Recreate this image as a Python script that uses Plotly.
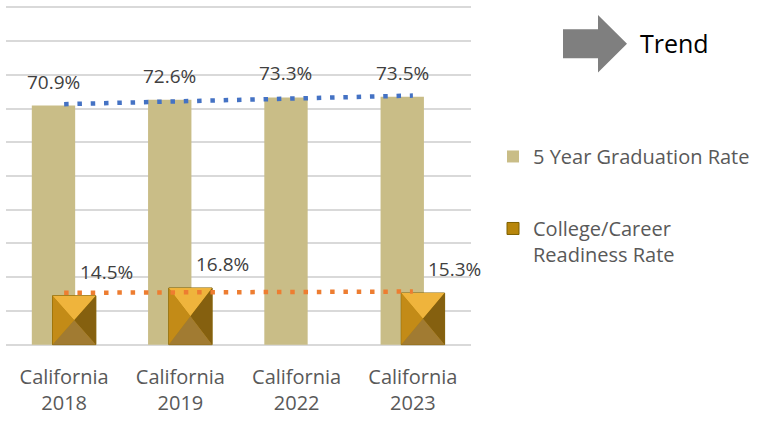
import numpy as np
import plotly.graph_objects as go

# ── Data ──────────────────────────────────────────────────────────────────────

categories = ["California<br>2018", "California<br>2019",
              "California<br>2022", "California<br>2023"]
grad_rate = [70.9, 72.6, 73.3, 73.5]          # 5 Year Graduation Rate (%)
ccr_rate = [14.5, 16.8, None, 15.3]           # College/Career Readiness Rate (%)
series_names = ["5 Year Graduation Rate", "College/Career<br>Readiness Rate"]

# ── Layout constants ──────────────────────────────────────────────────────────

W, H = 761, 421
L, R, T, B = 6, 290, 4.13, 73.13
Y_RANGE = [-1, 101]
FONT = "Open Sans"

GRAD_COLOR = "#C9BD87"
CCR_COLOR = "#B8860B"
BAR_W = 0.373
GRAD_OFF = -0.278
CCR_OFF = -0.10

x = np.arange(len(categories))


def px_x(p):
    return (p - L) / (W - L - R)


def px_y(p):
    return (H - B - p) / (H - T - B)


def trend(vals):
    """Linear trendline (least squares) over the points that exist."""
    xs = np.array([i for i, v in enumerate(vals) if v is not None], float)
    ys = np.array([v for v in vals if v is not None], float)
    k, b = np.polyfit(xs, ys, 1)
    xe = np.array([x[0], x[-1]], float)
    return xe, k * xe + b


def pyramid_faces(vals, off, width):
    """Polygons for the bevelled 'pyramid' look of the readiness bars."""
    faces = {"top": ([], []), "left": ([], []), "right": ([], []), "bottom": ([], [])}
    for i, v in enumerate(vals):
        if v is None:
            continue
        l = x[i] + off
        r = l + width
        c = (l + r) / 2
        m = v / 2
        polys = {
            "top": ([l, r, c, l], [v, v, m, v]),
            "left": ([l, l, c, l], [0, v, m, 0]),
            "right": ([r, r, c, r], [0, v, m, 0]),
            "bottom": ([l, r, c, l], [0, 0, m, 0]),
        }
        for k, (px_, py_) in polys.items():
            faces[k][0].extend(px_ + [None])
            faces[k][1].extend(py_ + [None])
    return faces


# ── Figure ────────────────────────────────────────────────────────────────────

fig = go.Figure()

fig.add_trace(go.Bar(
    x=x, y=grad_rate, name=series_names[0],
    width=BAR_W, offset=GRAD_OFF,
    marker=dict(color=GRAD_COLOR, line=dict(width=0)),
    legendgroup="g1",
))
fig.add_trace(go.Bar(
    x=x, y=ccr_rate, name=series_names[1],
    width=BAR_W, offset=CCR_OFF,
    marker=dict(color=CCR_COLOR, line=dict(color="#7F6000", width=1)),
    legendgroup="g2",
))

face_colors = {"top": "#EFB43C", "left": "#C38B17", "right": "#85600F", "bottom": "#A17B32"}
for k, (fx, fy) in pyramid_faces(ccr_rate, CCR_OFF, BAR_W).items():
    fig.add_trace(go.Scatter(
        x=fx, y=fy, mode="lines", fill="toself", fillcolor=face_colors[k],
        line=dict(width=0), showlegend=False, hoverinfo="skip",
    ))

for vals, color in [(grad_rate, "#4472C4"), (ccr_rate, "#ED7D31")]:
    tx, ty = trend(vals)
    fig.add_trace(go.Scatter(
        x=tx, y=ty, mode="lines",
        line=dict(color=color, width=4.5, dash="4.5px,8.8px"),
        showlegend=False, hoverinfo="skip",
    ))

# data labels
for i, v in enumerate(grad_rate):
    fig.add_annotation(
        x=x[i] + GRAD_OFF + BAR_W / 2, y=v, yshift=24,
        text=f"{v:.1f}%", showarrow=False,
        font=dict(family=FONT, size=19, color="#404040"),
    )
for i, v in enumerate(ccr_rate):
    if v is None:
        continue
    fig.add_annotation(
        x=x[i] + CCR_OFF + BAR_W / 2, y=v, xshift=32, yshift=24,
        text=f"{v:.1f}%", showarrow=False,
        font=dict(family=FONT, size=19, color="#404040"),
    )

# "Trend" arrow + text
arrow = [(563, 29.3), (598, 29.3), (598, 15), (627, 43.8),
         (598, 72.7), (598, 58.3), (563, 58.3)]
path = "M " + " L ".join(f"{px_x(a)},{px_y(b)}" for a, b in arrow) + " Z"
fig.add_shape(type="path", path=path, xref="paper", yref="paper",
              fillcolor="#7F7F7F", line=dict(width=0))
fig.add_annotation(
    x=px_x(638), y=px_y(43), xref="paper", yref="paper",
    xanchor="left", yanchor="middle", text="Trend", showarrow=False,
    font=dict(family=FONT, size=25, color="#000000"),
)

fig.update_layout(
    width=W, height=H,
    margin=dict(l=L, r=R, t=T, b=B, pad=0, autoexpand=False),
    paper_bgcolor="white", plot_bgcolor="white",
    barmode="overlay",
    showlegend=True,
    legend=dict(
        x=px_x(493), y=px_y(137), xanchor="left", yanchor="top",
        font=dict(family=FONT, size=20, color="#595959"),
        tracegroupgap=43, valign="top",
        bgcolor="rgba(0,0,0,0)",
    ),
    xaxis=dict(
        range=[-0.5, len(categories) - 0.5],
        tickvals=x, ticktext=categories,
        showgrid=False, zeroline=False, showline=False, ticks="",
        ticklabelstandoff=15,
        tickfont=dict(family=FONT, size=20, color="#595959"),
    ),
    yaxis=dict(
        range=Y_RANGE, dtick=10, tick0=0,
        showgrid=True, gridcolor="#D9D9D9", gridwidth=1.5,
        zeroline=False,
        showticklabels=False, ticks="", showline=False,
    ),
)

fig.write_html("out.html", config={"displayModeBar": False},
               post_script="document.body.style.margin = '0';")
